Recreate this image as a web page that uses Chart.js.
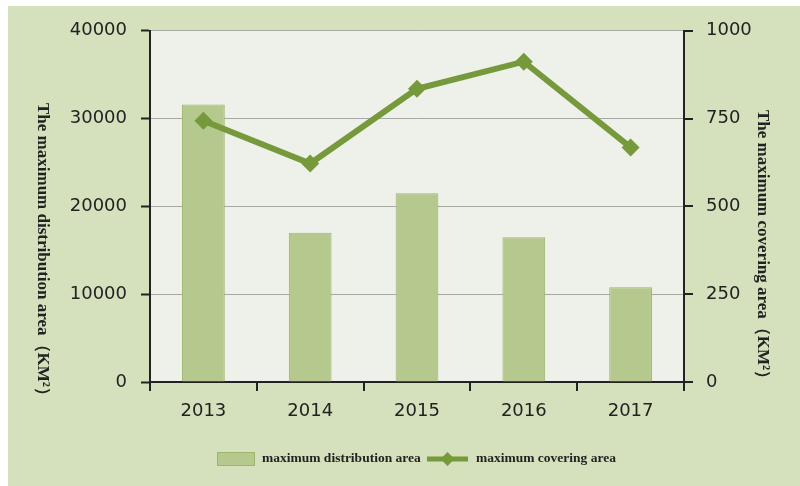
<!DOCTYPE html>
<html>
<head>
<meta charset="utf-8">
<script src="https://cdn.jsdelivr.net/npm/chart.js@4/dist/chart.umd.min.js"></script>
<style>
  html, body { margin: 0; padding: 0; background: #ffffff; }
  #wrap { position: absolute; left: 8px; top: 6px; width: 792px; height: 480px; }
</style>
</head>
<body>
<div id="wrap"><canvas id="c" width="792" height="480"></canvas></div>
<script>
const years = ['2013', '2014', '2015', '2016', '2017'];
const distributionArea = [31600, 17000, 21500, 16500, 10800];
const coveringArea = [744, 622, 835, 912, 668];
const leftTicks = [0, 10000, 20000, 30000, 40000];
const rightTicks = [0, 250, 500, 750, 1000];

const leftTitle = 'The maximum distribution area（KM²）';
const rightTitle = 'The maximum covering area（KM²）';
const barLabel = 'maximum distribution area';
const lineLabel = 'maximum covering area';

const BG = '#d5e1bc';
const PLOT_BG = '#eef0ea';
const BAR_FILL = '#b5c98e';
const BAR_EDGE = '#9cb46c';
const LINE = '#76993b';
const INK = '#222222';

const chrome = {
  id: 'chrome',
  beforeDraw(chart) {
    const { ctx, chartArea: a } = chart;
    ctx.save();
    ctx.fillStyle = BG;
    ctx.fillRect(0, 0, chart.width, chart.height);
    ctx.fillStyle = PLOT_BG;
    ctx.fillRect(a.left, a.top, a.right - a.left, a.bottom - a.top);
    ctx.restore();
  },
  afterDraw(chart) {
    const { ctx } = chart;
    ctx.save();
    // vertical axis titles, both reading top to bottom
    ctx.fillStyle = INK;
    ctx.font = 'bold 17px "Liberation Serif", "DejaVu Serif", serif';
    ctx.textBaseline = 'middle';
    ctx.textAlign = 'left';
    ctx.save();
    ctx.translate(34, 97);
    ctx.rotate(Math.PI / 2);
    ctx.fillText(leftTitle, 0, 0);
    ctx.restore();
    ctx.save();
    ctx.translate(754, 104);
    ctx.rotate(Math.PI / 2);
    ctx.fillText(rightTitle, 0, 0);
    ctx.restore();

    // legend
    const ly = 453;
    ctx.fillStyle = BAR_FILL;
    ctx.strokeStyle = BAR_EDGE;
    ctx.lineWidth = 1;
    ctx.fillRect(209, ly - 7, 38, 14);
    ctx.strokeRect(209.5, ly - 6.5, 37, 13);
    ctx.font = 'bold 13.5px "Liberation Serif", "DejaVu Serif", serif';
    ctx.fillStyle = INK;
    ctx.textAlign = 'left';
    ctx.fillText(barLabel, 254, ly);
    ctx.strokeStyle = LINE;
    ctx.lineWidth = 5;
    ctx.beginPath();
    ctx.moveTo(419, ly);
    ctx.lineTo(460, ly);
    ctx.stroke();
    ctx.fillStyle = LINE;
    ctx.beginPath();
    ctx.moveTo(439.5, ly - 7);
    ctx.lineTo(446.5, ly);
    ctx.lineTo(439.5, ly + 7);
    ctx.lineTo(432.5, ly);
    ctx.closePath();
    ctx.fill();
    ctx.fillStyle = INK;
    ctx.fillText(lineLabel, 468, ly);
    ctx.restore();
  }
};

const tickFont = { family: '"DejaVu Sans", sans-serif', size: 18 };
const plain = v => String(v);

new Chart(document.getElementById('c'), {
  data: {
    labels: years,
    datasets: [
      {
        type: 'line',
        label: lineLabel,
        data: coveringArea,
        yAxisID: 'y1',
        borderColor: LINE,
        backgroundColor: LINE,
        borderWidth: 6,
        pointStyle: 'rectRot',
        pointRadius: 9,
        pointHoverRadius: 9,
        pointBorderWidth: 0,
        tension: 0,
        order: 0
      },
      {
        type: 'bar',
        label: barLabel,
        data: distributionArea,
        yAxisID: 'y',
        backgroundColor: BAR_FILL,
        borderColor: BAR_EDGE,
        borderWidth: 1,
        categoryPercentage: 1,
        barPercentage: 0.4,
        order: 1
      }
    ]
  },
  options: {
    responsive: false,
    animation: false,
    events: [],
    layout: { padding: { top: 24, left: 0, right: 0, bottom: 0 } },
    plugins: { legend: { display: false }, tooltip: { enabled: false } },
    scales: {
      x: {
        offset: true,
        grid: { offset: true, drawOnChartArea: false, color: INK, tickLength: 9, lineWidth: 2 },
        border: { color: INK, width: 2 },
        ticks: { color: INK, font: tickFont, padding: 10 },
        afterFit(s) { s.height = 104; }
      },
      y: {
        position: 'left',
        min: 0, max: 40000,
        afterBuildTicks(s) { s.ticks = leftTicks.map(v => ({ value: v })); },
        grid: { color: '#a8a8a3', lineWidth: 1, tickLength: 9, tickColor: INK, tickWidth: 2 },
        border: { color: INK, width: 2 },
        ticks: { color: INK, font: tickFont, padding: 14, callback: plain },
        afterFit(s) { s.width = 142; }
      },
      y1: {
        position: 'right',
        min: 0, max: 1000,
        afterBuildTicks(s) { s.ticks = rightTicks.map(v => ({ value: v })); },
        grid: { drawOnChartArea: false, tickLength: 9, color: INK, lineWidth: 2 },
        border: { color: INK, width: 2 },
        ticks: { color: INK, font: tickFont, padding: 13, callback: plain },
        afterFit(s) { s.width = 116; }
      }
    }
  },
  plugins: [chrome]
});
</script>
</body>
</html>
